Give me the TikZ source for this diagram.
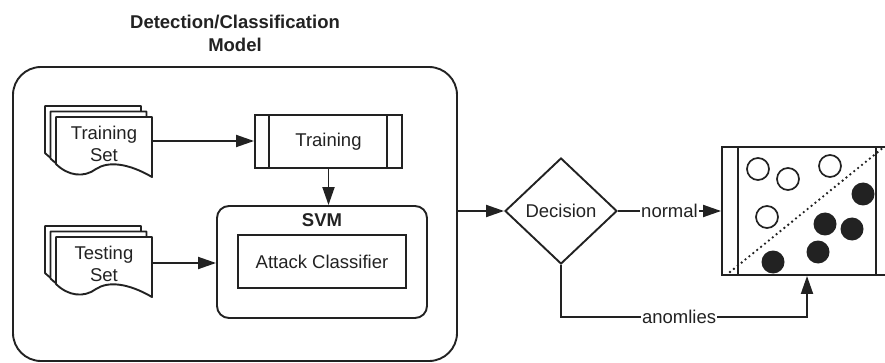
\documentclass[tikz,border=0pt]{standalone}
\usepackage{fontspec}
\setmainfont{Liberation Sans}
\usetikzlibrary{arrows.meta,shapes.geometric}
\definecolor{ink}{HTML}{222222}
\tikzset{
  ln/.style={draw=ink, line width=1.9pt},
  arr/.style={ln, -{Triangle[length=18pt,width=12pt]}},
  txt/.style={font=\fontsize{18.5}{22}\selectfont, text=ink, align=center},
  lbl/.style={txt, fill=white, inner sep=1pt},
  docpage/.style={ln, fill=white, line join=round},
  procbox/.style={ln, rectangle, txt, inner sep=0pt},
}
\newcommand{\docpagepath}{(0,0) -- (96,0) -- (96,60) .. controls (72,46) and (52,44) .. (40,52) .. controls (28,61) and (12,59) .. (0,47) -- cycle}
\begin{document}
\begin{tikzpicture}[x=1pt,y=-1pt]
\useasboundingbox (0,0) rectangle (885,363);
\clip (0,0) rectangle (885,363);

% title
\node[txt, font=\fontsize{18.5}{23}\selectfont\bfseries] (title) at (235,33) {Detection/Classification\\Model};

% outer model box
\draw[ln, rounded corners=28pt] (13,67) rectangle (457,361);
\coordinate (outE) at (457,211);

% Training set document stack
\begin{scope}[shift={(56,117)}]
  \draw[docpage, shift={(-11,-11)}] \docpagepath;
  \draw[docpage, shift={(-5.5,-5.5)}] \docpagepath;
  \draw[docpage] \docpagepath;
\end{scope}
\node[txt] (trainset) at (104,144) {Training\\Set};
\coordinate (trainsetE) at (152,141);

% Testing set document stack
\begin{scope}[shift={(56,237)}]
  \draw[docpage, shift={(-11,-11)}] \docpagepath;
  \draw[docpage, shift={(-5.5,-5.5)}] \docpagepath;
  \draw[docpage] \docpagepath;
\end{scope}
\node[txt] (testset) at (104,264) {Testing\\Set};
\coordinate (testsetE) at (152,263);

% Training process box
\node[procbox, minimum width=147pt, minimum height=53pt] (train) at (328.5,141.5) {Training};
\draw[ln] ([xshift=15pt]train.north west) -- ([xshift=15pt]train.south west);
\draw[ln] ([xshift=-16pt]train.north east) -- ([xshift=-16pt]train.south east);

% SVM box
\node[ln, rounded corners=12pt, minimum width=210pt, minimum height=112pt] (svm) at (322,262) {};
\node[txt, font=\fontsize{18.5}{22}\selectfont\bfseries] (svmlbl) at (322,220) {SVM};
\node[procbox, minimum width=168pt, minimum height=53pt] (clf) at (322,261.5) {Attack Classifier};

% Decision diamond
\node[ln, diamond, txt, minimum width=112pt, minimum height=106pt, inner sep=0pt] (dec) at (561,211) {Decision};

% result panel
\node[ln, rectangle, minimum width=170pt, minimum height=128pt] (panel) at (807,211) {};
\draw[ln] ([xshift=17pt]panel.north west) -- ([xshift=17pt]panel.south west);
\draw[ln] ([xshift=-17pt]panel.north east) -- ([xshift=-17pt]panel.south east);
\draw[ink, line width=2.6pt, dash pattern=on 0pt off 5pt, line cap=round] (730,272) -- (884,147);
\foreach \p in {(758,169),(788,179),(830,166),(767,217)}
  \draw[ink, line width=1.7pt, fill=white] \p circle (11pt);
\foreach \p in {(863,194),(825,224),(852,229),(818,252),(773,262)}
  \fill[ink] \p circle (11.5pt);

% connectors
\draw[arr] (trainsetE) -- (trainsetE -| train.west);
\draw[arr] (train.south) -- (train.south |- svm.north);
\draw[arr] (testsetE) -- (testsetE -| svm.west);
\draw[arr] (outE) -- (dec.west);
\draw[arr] (dec.east) -- node[lbl] {normal} (dec.east -| panel.west);
\coordinate (anomC) at (807,317);
\draw[arr] (dec.south) |- node[lbl, pos=0.74] {anomlies} (anomC) -- (panel.south);
\end{tikzpicture}
\end{document}
